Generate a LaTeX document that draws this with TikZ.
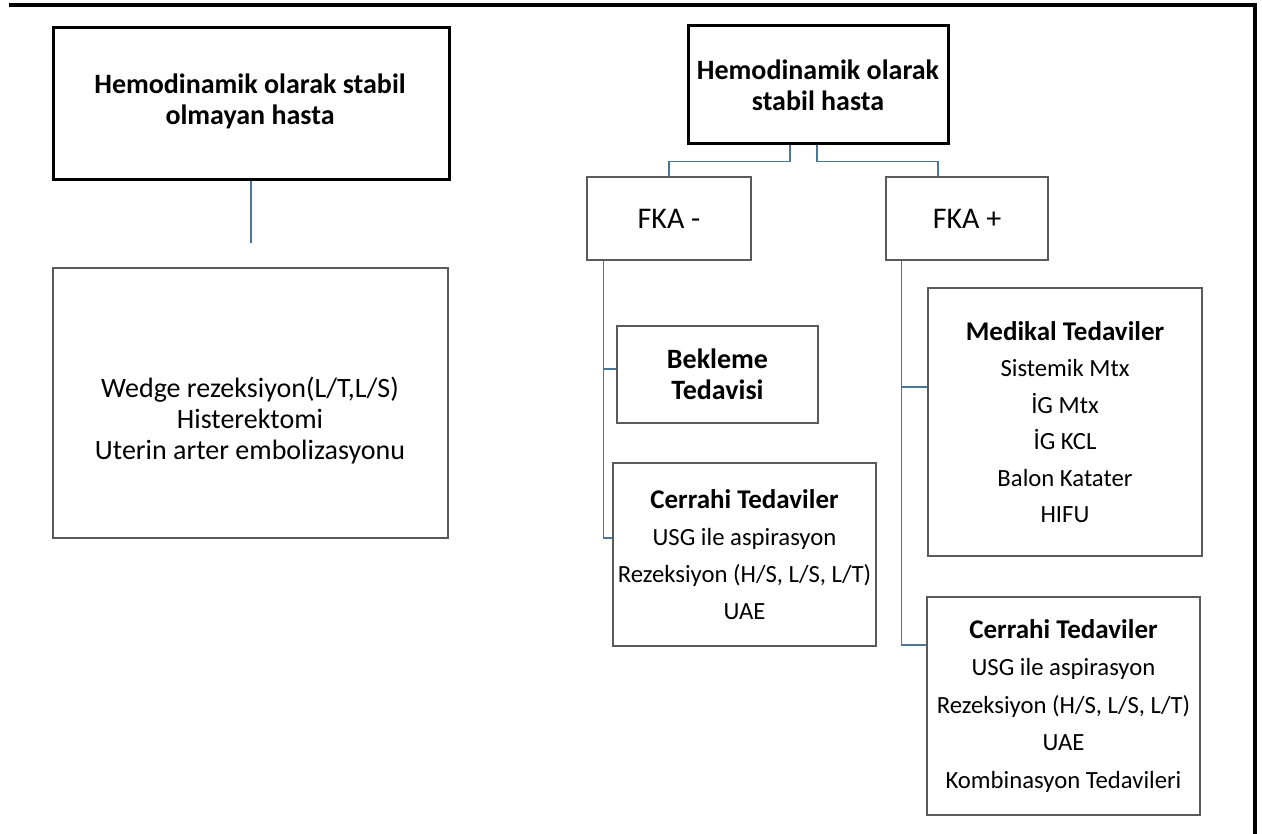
\documentclass[tikz,border=0pt]{standalone}
\usepackage{fontspec}
\setmainfont{Carlito}
\usetikzlibrary{calc}
\definecolor{connblue}{RGB}{72,120,150}
\definecolor{boxgray}{RGB}{90,90,90}
\tikzset{
  thickbox/.style={draw=black, line width=3pt, rectangle, inner sep=0pt, align=center},
  thinbox/.style={draw=boxgray, line width=1.5pt, rectangle, inner sep=0pt, align=center},
  conn/.style={draw=connblue, line width=1.4pt},
  txt/.style={align=center, inner sep=0pt},
}
\newcommand{\titlef}{\fontsize{28}{31}\selectfont\bfseries}
\newcommand{\hd}[1]{{\fontsize{27}{37}\selectfont\bfseries #1}}
\begin{document}
\begin{tikzpicture}[x=1pt,y=-1pt]
\useasboundingbox (0,0) rectangle (1262,834);
% page border
\draw[line width=4pt, line join=miter] (9,5) -- (1254.7,5) -- (1254.7,836);

% left column
\node[thickbox, minimum width=396pt, minimum height=152pt] (L1) at (251,104) {};
\node[txt, font=\titlef] (L1t) at (250,101) {Hemodinamik olarak stabil\\olmayan hasta};
\node[thinbox, minimum width=395pt, minimum height=270pt] (L2) at (250.5,403) {};
\node[txt, font=\fontsize{28}{31}\selectfont] (L2t) at (250,421) {Wedge rezeksiyon(L/T,L/S)\\Histerektomi\\Uterin arter embolizasyonu};
\coordinate (L1end) at (251,243);
\draw[conn] (L1.south) -- (L1end);

% right top
\node[thickbox, minimum width=260pt, minimum height=118pt, font=\titlef] (R0) at (818,85) {Hemodinamik olarak\\stabil hasta};
\node[thinbox, minimum width=164pt, minimum height=83pt, font=\fontsize{30}{36}\selectfont] (FKAm) at (669,218.5) {FKA -};
\node[thinbox, minimum width=162pt, minimum height=83pt, font=\fontsize{30}{36}\selectfont] (FKAp) at (967,218.5) {FKA +};

\draw[conn] ([xshift=-28pt]R0.south) -- ++(0,16) -| (FKAm.north);
\draw[conn] ([xshift=-1pt]R0.south) -- ++(0,16) -| ([xshift=-29pt]FKAp.north);

% FKA - branch
\node[thinbox, minimum width=201pt, minimum height=97pt, font=\titlef] (Bek) at (717.5,374.5) {Bekleme\\Tedavisi};
\node[thinbox, minimum width=263pt, minimum height=183pt, font=\fontsize{24.7}{37}\selectfont] (CerL) at (744.5,554.5) {\hd{Cerrahi Tedaviler}\\USG ile aspirasyon\\Rezeksiyon (H/S, L/S, L/T)\\UAE};
\draw[conn] ([xshift=17pt]FKAm.south west) |- ([yshift=5.5pt]Bek.west);
\draw[conn] ([xshift=17pt]FKAm.south west) |- ([yshift=16.5pt]CerL.west);

% FKA + branch
\node[thinbox, minimum width=274pt, minimum height=268pt, font=\fontsize{24.7}{36.5}\selectfont] (Med) at (1065,422) {\hd{Medikal Tedaviler}\\Sistemik Mtx\\İG Mtx\\İG KCL\\Balon Katater\\HIFU};
\node[thinbox, minimum width=273pt, minimum height=218pt, font=\fontsize{24.7}{37.5}\selectfont] (CerR) at (1063.5,706) {\hd{Cerrahi Tedaviler}\\USG ile aspirasyon\\Rezeksiyon (H/S, L/S, L/T)\\UAE\\Kombinasyon Tedavileri};
\draw[conn] ([xshift=16pt]FKAp.south west) |- ([yshift=35pt]Med.west);
\draw[conn] ([xshift=16pt]FKAp.south west) |- ([yshift=61pt]CerR.west);
\end{tikzpicture}
\end{document}
